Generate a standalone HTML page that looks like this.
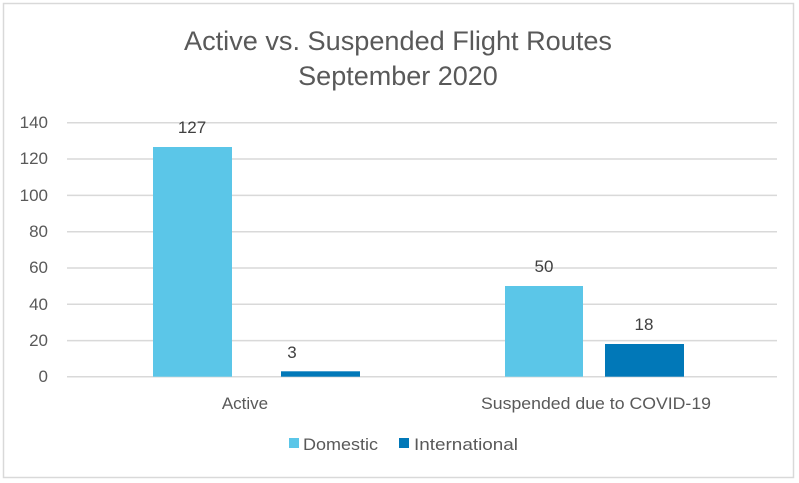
<!DOCTYPE html>
<html><head><meta charset="utf-8"><style>
html,body{margin:0;padding:0;background:#fff;width:799px;height:483px;overflow:hidden}
svg{display:block;font-family:"Liberation Sans",sans-serif}
</style></head><body>
<svg width="799" height="483" viewBox="0 0 799 483">
<rect x="3.5" y="3.5" width="790" height="474" fill="#fff" stroke="#d9d9d9" stroke-width="1.5"/>
<text x="398" y="50" font-size="27" fill="#595959" text-anchor="middle" textLength="428" lengthAdjust="spacingAndGlyphs">Active vs. Suspended Flight Routes</text>
<text x="398" y="85" font-size="27" fill="#595959" text-anchor="middle">September 2020</text>
<g stroke="#d9d9d9" stroke-width="1.5">
<line x1="67" x2="777" y1="122.7" y2="122.7"/>
<line x1="67" x2="777" y1="159" y2="159"/>
<line x1="67" x2="777" y1="195.4" y2="195.4"/>
<line x1="67" x2="777" y1="231.7" y2="231.7"/>
<line x1="67" x2="777" y1="268" y2="268"/>
<line x1="67" x2="777" y1="304.3" y2="304.3"/>
<line x1="67" x2="777" y1="340.6" y2="340.6"/>
<line x1="67" x2="777" y1="376.7" y2="376.7"/>
</g>
<g font-size="17" fill="#595959" text-anchor="end">
<text x="48" y="128">140</text><text x="48" y="164">120</text><text x="48" y="201">100</text>
<text x="48" y="237">80</text><text x="48" y="273">60</text><text x="48" y="310">40</text>
<text x="48" y="346">20</text><text x="48" y="382">0</text>
</g>
<rect x="153" y="147" width="79" height="229.7" fill="#5bc6e8"/>
<rect x="281" y="371.3" width="79" height="5.4" fill="#0178b8"/>
<rect x="505" y="286" width="78" height="90.7" fill="#5bc6e8"/>
<rect x="605" y="344" width="79" height="32.7" fill="#0178b8"/>
<g font-size="17" fill="#404040" text-anchor="middle">
<text x="192" y="133">127</text><text x="292" y="358">3</text>
<text x="544" y="272">50</text><text x="644" y="330">18</text>
</g>
<g font-size="17" fill="#595959" text-anchor="middle">
<text x="245" y="409">Active</text><text x="596" y="409" textLength="230" lengthAdjust="spacingAndGlyphs">Suspended due to COVID-19</text>
</g>
<rect x="289" y="438" width="10" height="10" fill="#5bc6e8"/>
<text x="303" y="450" font-size="17" fill="#595959" textLength="75" lengthAdjust="spacingAndGlyphs">Domestic</text>
<rect x="399" y="438" width="10" height="10" fill="#0178b8"/>
<text x="414" y="450" font-size="17" fill="#595959" textLength="104" lengthAdjust="spacingAndGlyphs">International</text>
</svg>
</body></html>
